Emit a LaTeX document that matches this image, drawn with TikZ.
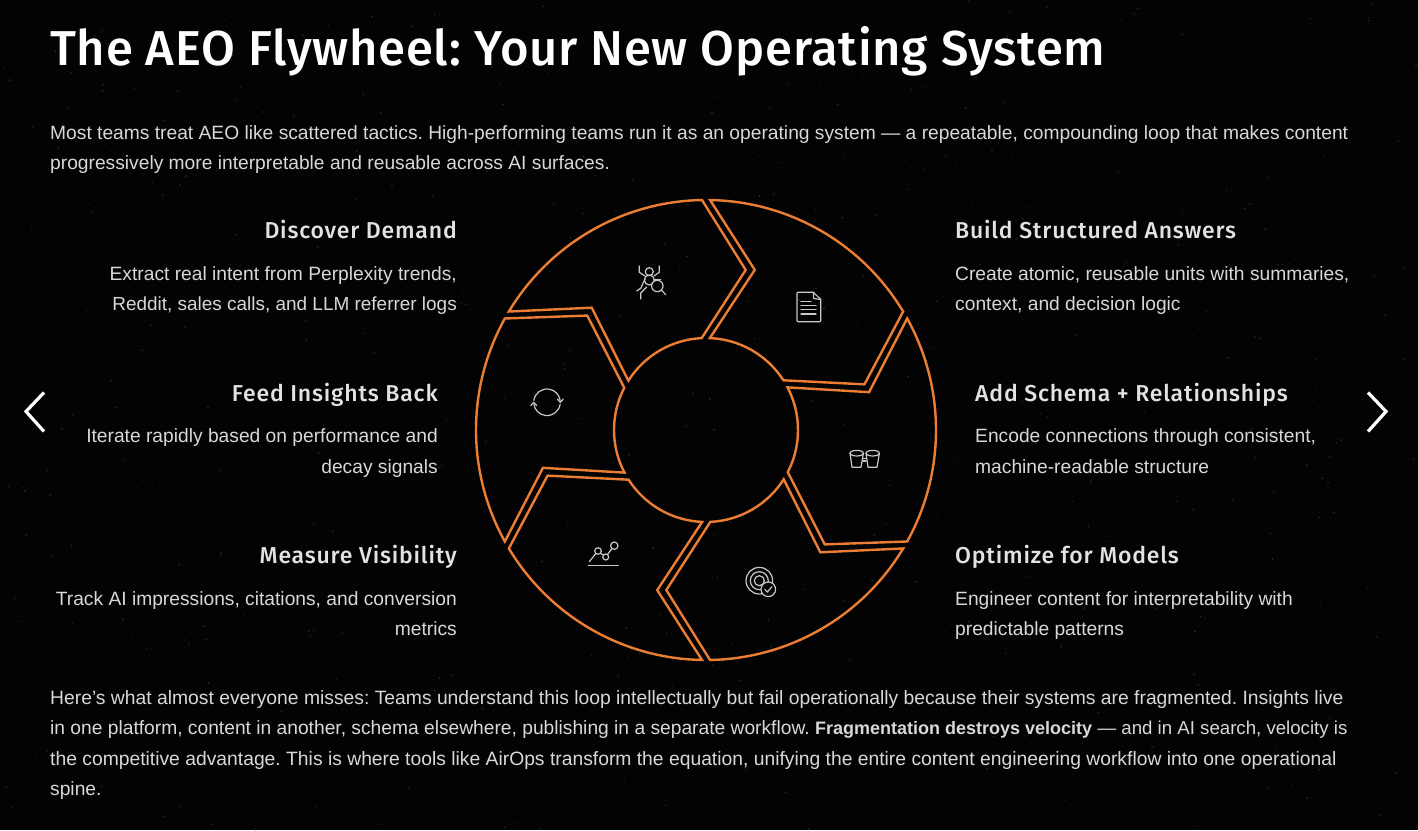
\documentclass[tikz,border=0pt]{standalone}
\usepackage{fontspec}
\setmainfont{Liberation Sans}
\newfontfamily\headfont[LetterSpace=3.5,UprightFont={* Medium},BoldFont={* Bold}]{Fira Sans}
\newfontfamily\titlefont[LetterSpace=1.5,UprightFont={* Medium},BoldFont={* Bold}]{Fira Sans}
\definecolor{bgk}{HTML}{030303}
\definecolor{ring}{HTML}{EC7E33}
\definecolor{bodyc}{HTML}{D8D8D8}
\definecolor{headc}{HTML}{E2E2E2}
\definecolor{iconc}{HTML}{C9C9C9}
\definecolor{starc}{HTML}{2A2A2A}
\tikzset{
  x=1pt,y=1pt,
  seg/.style={draw=ring,line width=2.4pt,line join=miter},
  icon/.style={draw=iconc,line width=1.2pt,line cap=round,line join=round},
  bodyt/.style={inner sep=0pt,text=bodyc,font=\fontsize{19.22}{22}\selectfont},
  bodyl/.style={bodyt,anchor=base west},
  bodyr/.style={bodyt,anchor=base east},
  bodyw/.style={bodyl,font=\fontsize{19.3}{22}\selectfont},
  headl/.style={inner sep=0pt,text=headc,anchor=base west,font=\headfont\fontsize{23}{26}\selectfont},
  headr/.style={inner sep=0pt,text=headc,anchor=base east,font=\headfont\fontsize{23}{26}\selectfont},
  chev/.style={draw=white,line width=3.2pt,line join=miter},
}
\begin{document}
\frenchspacing
\begin{tikzpicture}
\useasboundingbox (0,0) rectangle (1418,830);
\fill[bgk] (0,0) rectangle (1418,830);
% faint stars
\pgfmathsetseed{4711}
\foreach \i in {1,...,600}{
  \pgfmathsetmacro{\sx}{rnd*1418}
  \pgfmathsetmacro{\sy}{rnd*830}
  \pgfmathsetmacro{\sr}{0.4+rnd*0.6}
  \fill[starc] (\sx,\sy) circle[radius=\sr];
}
% ring segments: one shape, turned by 60 degrees each time
\coordinate (c) at (706,400);
\foreach \k in {0,...,5}{
  \begin{scope}[shift={(c)},rotate=-60*\k]
    \draw[seg] (149:230) arc[start angle=149,end angle=91,radius=230]
      -- (76.07:164.9) -- (92.7:92) arc[start angle=92.7,end angle=147.6,radius=92]
      -- (133.06:167.4) -- cycle;
  \end{scope}
}
% title
\node[inner sep=0pt,anchor=base west,text=white,font=\titlefont\fontsize{49}{54}\selectfont] (title) at (50,764) {The AEO Flywheel: Your New Operating System};
% intro
\node[bodyl] (i1) at (50,690) {Most teams treat AEO like scattered tactics. High-performing teams run it as an operating system — a repeatable, compounding loop that makes content};
\node[bodyl] (i2) at (50,660) {progressively more interpretable and reusable across AI surfaces.};
% left column
\node[headr] (h1) at (457,591) {Discover Demand};
\node[bodyr] (d1a) at (457,549.5) {Extract real intent from Perplexity trends,};
\node[bodyr,font=\fontsize{18.95}{22}\selectfont] (d1b) at (457,519.5) {Reddit, sales calls, and LLM referrer logs};
\node[headr] (h6) at (438,428) {Feed Insights Back};
\node[bodyr] (d6a) at (438,387) {Iterate rapidly based on performance and};
\node[bodyr] (d6b) at (438,356.5) {decay signals};
\node[headr] (h5) at (457,266) {Measure Visibility};
\node[bodyr] (d5a) at (457,224.5) {Track AI impressions, citations, and conversion};
\node[bodyr] (d5b) at (457,194) {metrics};
% right column
\node[headl] (h2) at (955,591) {Build Structured Answers};
\node[bodyl] (d2a) at (955,549.5) {Create atomic, reusable units with summaries,};
\node[bodyl] (d2b) at (955,519.5) {context, and decision logic};
\node[headl] (h3) at (975,428) {Add Schema + Relationships};
\node[bodyl] (d3a) at (975,387) {Encode connections through consistent,};
\node[bodyl] (d3b) at (975,356.5) {machine-readable structure};
\node[headl] (h4) at (955,266) {Optimize for Models};
\node[bodyl] (d4a) at (955,224.5) {Engineer content for interpretability with};
\node[bodyl] (d4b) at (955,194) {predictable patterns};
% closing paragraph
\node[bodyw] (p1) at (50,126) {Here's what almost everyone misses: Teams understand this loop intellectually but fail operationally because their systems are fragmented. Insights live};
\node[bodyl] (p2) at (50,95.5) {in one platform, content in another, schema elsewhere, publishing in a separate workflow. {\fontsize{18}{22}\selectfont\bfseries Fragmentation destroys velocity} {\fontsize{18.65}{22}\selectfont — and in AI search, velocity is}};
\node[bodyw] (p3) at (50,65) {the competitive advantage. This is where tools like AirOps transform the equation, unifying the entire content engineering workflow into one operational};
\node[bodyl] (p4) at (50,34.5) {spine.};
% chevrons
\draw[chev] (44,437.5) -- (26,418.5) -- (44,398.5);
\draw[chev] (1368,437.5) -- (1386,418.5) -- (1368,398.5);
% icon: bug and magnifier
\begin{scope}[icon]
  \draw (649.3,558.3) circle[radius=4];
  \draw (649.3,550) circle[radius=5];
  \draw (639.3,564) -- (639.3,557.7) -- (645,554);
  \draw (659.3,564) -- (659.3,557.7) -- (654,554);
  \draw (636.7,539) -- (640.7,541.7) -- (645,551);
  \draw (640.7,531) -- (640.7,537) -- (646.7,543);
  \draw (654,550.7) -- (660.7,550.7);
  \fill[bgk] (657.3,544) circle[radius=5.7];
  \draw (657.3,544) circle[radius=5.7];
  \draw (661.3,540) -- (665.7,535.3);
\end{scope}
% icon: document
\begin{scope}[icon]
  \draw (813.3,537.7) -- (798,537.7) -- (797,536.7) -- (797,509.3) -- (798,508.3) -- (819.7,508.3) -- (820.7,509.3) -- (820.7,530.5) -- cycle;
  \draw (813.3,537.7) -- (813.7,531.5) -- (820.7,530.5);
  \draw (801,516) -- (816,516);
  \draw (801,520.5) -- (816,520.5);
  \draw (801,524.5) -- (816,524.5);
  \draw (801,528.5) -- (811,528.5);
\end{scope}
% icon: cycle
\begin{scope}[icon]
  \draw (547,427.7) ++(172:13.3) arc[start angle=172,end angle=8,radius=13.3];
  \draw (547,427.7) ++(-8:13.3) arc[start angle=-8,end angle=-172,radius=13.3];
  \draw (557.3,431) -- (560.3,427.7) -- (563.3,431);
  \draw (530.7,424.4) -- (533.7,427.7) -- (536.7,424.4);
\end{scope}
% icon: cups
\begin{scope}[icon]
  \draw (856.7,376.8) ellipse[x radius=6.7,y radius=2.8];
  \draw (872.7,376.8) ellipse[x radius=6.7,y radius=2.8];
  \draw (850,376.8) -- (852,362.8) -- (861,362.8) -- (863.4,376.8);
  \draw (866,376.8) -- (868,362.8) -- (877,362.8) -- (879.4,376.8);
  \draw (863,371.5) -- (866,371.5);
  \draw (863,369) -- (866,369);
\end{scope}
% icon: target with check
\begin{scope}[icon]
  \draw (759.3,249.3) circle[radius=13.3];
  \draw (759.3,249.3) circle[radius=9];
  \draw (759.3,249.3) circle[radius=5];
  \fill[bgk] (768.3,240.7) circle[radius=7.3];
  \draw (768.3,240.7) circle[radius=7.3];
  \draw (764.7,240.7) -- (767.3,238) -- (772,243.3);
\end{scope}
% icon: chart
\begin{scope}[icon]
  \draw (588.3,264.3) -- (618.3,264.3);
  \draw (598,279) circle[radius=3.3];
  \draw (605.7,273) circle[radius=3];
  \draw (614.3,284.3) circle[radius=3.7];
  \draw (589.3,268.3) -- (595.8,276.5);
  \draw (600,276.5) -- (603.8,275.2);
  \draw (607.5,275.5) -- (612,281.5);
\end{scope}
\end{tikzpicture}
\end{document}
